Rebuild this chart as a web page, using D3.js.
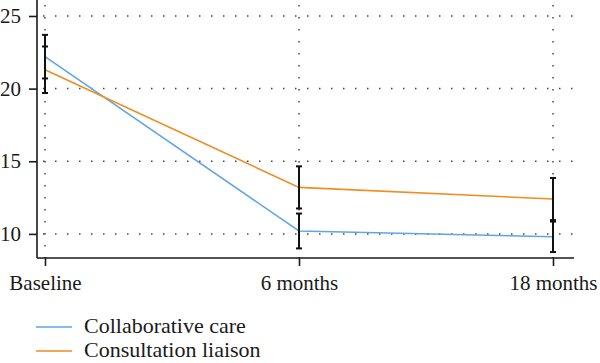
<!DOCTYPE html>
<meta charset="utf-8">
<style>
body { margin: 0; background: #fff; }
text { font-family: "Liberation Serif", serif; fill: #1a1a1a; }
</style>
<body>
<div id="chart"></div>
<script src="https://d3js.org/d3.v7.min.js"></script>
<script>

// data
var categories = ['Baseline', '6 months', '18 months'];
var collabMean = [22.2, 10.2, 9.8];
var collabErr = [1.5, 1.2, 1.05];
var liaisonMean = [21.3, 13.2, 12.4];
var liaisonErr = [1.6, 1.45, 1.45];
var yTicks = [10, 15, 20, 25];
var seriesNames = ['Collaborative care', 'Consultation liaison'];
var seriesColors = ['#5ea6e5', '#ef8d22'];

var width = 600, height = 363;
var plot = {left: 37, right: 574, top: 0, bottom: 258};

var svg = d3.select('#chart').append('svg')
  .attr('width', width)
  .attr('height', height);

var x = d3.scalePoint()
  .domain(categories)
  .range([45, 553]);

var y = d3.scaleLinear()
  .domain([8.34, 26.1])
  .range([plot.bottom, plot.top]);

// dotted grid
var grid = svg.append('g')
  .attr('stroke', '#444')
  .attr('stroke-width', 1.5)
  .attr('stroke-dasharray', '1.5,10.5');

grid.selectAll('.hgrid').data(yTicks).enter().append('line')
  .attr('x1', plot.left + 6).attr('x2', plot.right)
  .attr('y1', function(d){ return y(d); })
  .attr('y2', function(d){ return y(d); });

grid.selectAll('.vgrid').data(categories).enter().append('line')
  .attr('x1', function(d){ return x(d); })
  .attr('x2', function(d){ return x(d); })
  .attr('y1', plot.top + 5).attr('y2', plot.bottom);

// axes
var yAxis = d3.axisLeft(y).tickValues(yTicks).tickSize(8).tickPadding(8);
var gy = svg.append('g')
  .attr('transform', 'translate(' + plot.left + ',0)')
  .call(yAxis);
gy.select('.domain').attr('d', 'M0,' + plot.top + 'V' + plot.bottom);

var xAxis = d3.axisBottom(x).tickSize(8).tickPadding(9);
var gx = svg.append('g')
  .attr('transform', 'translate(0,' + plot.bottom + ')')
  .call(xAxis);
gx.select('.domain').attr('d', 'M' + plot.left + ',0H' + plot.right);

svg.selectAll('.domain, .tick line')
  .attr('stroke', '#1a1a1a')
  .attr('stroke-width', 1.6);
svg.selectAll('.tick text')
  .style('font-size', '21px')
  .style('font-family', '"Liberation Serif", serif')
  .attr('fill', '#1a1a1a');
gx.selectAll('.tick text').attr('dy', '0.71em');
gy.selectAll('.tick text').attr('x', -16);

// lines
var series = [
  {name: seriesNames[0], mean: collabMean, err: collabErr, color: seriesColors[0]},
  {name: seriesNames[1], mean: liaisonMean, err: liaisonErr, color: seriesColors[1]}
];

var line = d3.line()
  .x(function(d){ return x(d.cat); })
  .y(function(d){ return y(d.v); });

series.forEach(function(s){
  var pts = categories.map(function(c, i){ return {cat: c, v: s.mean[i], e: s.err[i]}; });
  svg.append('path')
    .datum(pts)
    .attr('fill', 'none')
    .attr('stroke', s.color)
    .attr('stroke-width', 1.6)
    .attr('d', line);
  s.pts = pts;
});

// error bars
series.forEach(function(s){
  var g = svg.append('g').attr('stroke', '#111').attr('stroke-width', 2);
  s.pts.forEach(function(p){
    var cx = x(p.cat), y0 = y(p.v - p.e), y1 = y(p.v + p.e);
    g.append('line').attr('x1', cx).attr('x2', cx).attr('y1', y0).attr('y2', y1);
    g.append('line').attr('x1', cx - 3).attr('x2', cx + 3).attr('y1', y0).attr('y2', y0);
    g.append('line').attr('x1', cx - 3).attr('x2', cx + 3).attr('y1', y1).attr('y2', y1);
  });
});

// legend (bottom row sits just inside the frame)
var legend = svg.append('g');
series.forEach(function(s, i){
  var ly = 327 + i * 24;
  legend.append('line')
    .attr('x1', 36).attr('x2', 72)
    .attr('y1', ly).attr('y2', ly)
    .attr('stroke', s.color).attr('stroke-width', 1.6);
  legend.append('text')
    .attr('x', 84).attr('y', ly + 6)
    .style('font-size', '22px')
    .text(s.name);
});

</script>
</body>
